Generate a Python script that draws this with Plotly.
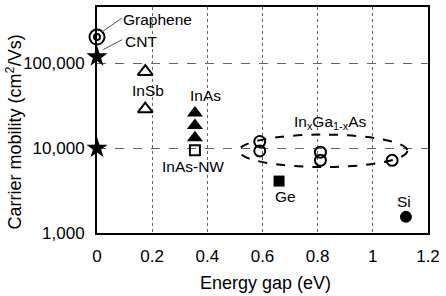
import plotly.graph_objects as go

# ---- data ----
graphene_x = [0.0]
graphene_y = [205000]
star_x = [0.0, 0.0]
star_y = [120000, 10000]
insb_x = [0.175, 0.175]
insb_y = [80000, 29000]
inas_x = [0.355, 0.355, 0.355]
inas_y = [26000, 18500, 13300]
inasnw_x = [0.355]
inasnw_y = [9500]
ingaas_x = [0.59, 0.59, 0.81, 0.81, 1.07]
ingaas_y = [12000, 9300, 9000, 7200, 7200]
ge_x = [0.66]
ge_y = [4100]
si_x = [1.12]
si_y = [1550]

x_ticks = [0, 0.2, 0.4, 0.6, 0.8, 1.0, 1.2]
x_ticktext = ["0", "0.2", "0.4", "0.6", "0.8", "1", "1.2"]
y_ticks = [1000, 10000, 100000]
y_ticktext = ["1,000", "10,000", "100,000"]

FONT = "Arial, Liberation Sans, sans-serif"
L, R, T, B = 97, 428, 5, 233
PW, PH = R - L, B - T

fig = go.Figure()

def add(x, y, symbol, size, lw=2, color="black"):
    fig.add_trace(go.Scatter(x=x, y=y, mode="markers", cliponaxis=False,
                             marker=dict(symbol=symbol, size=size, color=color,
                                         line=dict(width=lw, color="black"))))

add(graphene_x, graphene_y, "circle-open", 15, 2)
add(graphene_x, graphene_y, "circle-open", 6, 2)
add(star_x, star_y, "star", 16, 0)
add(insb_x, insb_y, "triangle-up-open", 13, 2)
add(inas_x, inas_y, "triangle-up", 14, 0)
add(inasnw_x, inasnw_y, "square-open", 10, 2)
add(ingaas_x, ingaas_y, "circle-open", 11, 2)
add(ge_x, ge_y, "square", 11, 0)
add(si_x, si_y, "circle", 12, 0)

# dashed ellipse around InGaAs
fig.add_shape(type="circle", xref="x", yref="y", x0=0.515, x1=1.125, y0=6000, y1=14500,
              line=dict(color="black", width=2, dash="dash"))
# leader lines
fig.add_shape(type="line", xref="x", yref="y", x0=0.018, y0=236000, x1=0.091, y1=345000,
              line=dict(color="#555", width=1))
fig.add_shape(type="line", xref="x", yref="y", x0=0.022, y0=146000, x1=0.091, y1=191000,
              line=dict(color="#555", width=1))

labels = [
    ("Graphene", 0.221, 5.515),
    ("CNT", 0.160, 5.257),
    ("InSb", 0.185, 4.684),
    ("InAs", 0.395, 4.626),
    ("InAs-NW", 0.348, 3.779),
    ("In<sub>x</sub>Ga<sub>1-x</sub>As", 0.845, 4.302),
    ("Ge", 0.682, 3.43),
    ("Si", 1.113, 3.369),
]
for t, x, y in labels:
    fig.add_annotation(x=x, y=y, xref="x", yref="y", text=t, showarrow=False,
                       font=dict(family=FONT, size=15.5, color="black"))

# axis titles
fig.add_annotation(x=(265 - L) / PW, y=(B - 283) / PH, xref="paper", yref="paper",
                   text="Energy gap (eV)", showarrow=False, xanchor="center", yanchor="middle",
                   font=dict(family=FONT, size=18, color="black"))
fig.add_annotation(x=(14.5 - L) / PW, y=(B - 131) / PH, xref="paper", yref="paper",
                   text="Carrier mobility (cm<sup>2</sup>/Vs)", textangle=-90, showarrow=False,
                   xanchor="center", yanchor="middle",
                   font=dict(family=FONT, size=18, color="black"))

fig.update_layout(
    width=446, height=296,
    margin=dict(l=L, r=446 - R, t=T, b=296 - B),
    paper_bgcolor="white", plot_bgcolor="white",
    showlegend=False,
    font=dict(family=FONT, size=17, color="black"),
)
fig.update_xaxes(range=[0, 1.2], tickvals=x_ticks, ticktext=x_ticktext,
                 showgrid=True, gridcolor="#666", griddash="dot", gridwidth=1,
                 showline=True, linecolor="black", linewidth=2, mirror=True,
                 ticks="outside", ticklen=7, tickcolor="rgba(0,0,0,0)",
                 zeroline=False, tickfont=dict(size=17))
fig.update_yaxes(type="log", range=[3, 5.667], tickvals=y_ticks, ticktext=y_ticktext,
                 showgrid=True, gridcolor="#666", griddash="dash", gridwidth=1,
                 showline=True, linecolor="black", linewidth=2, mirror=True,
                 ticks="outside", ticklen=7, tickcolor="rgba(0,0,0,0)",
                 zeroline=False, tickfont=dict(size=17))

fig.write_html("out.html")
